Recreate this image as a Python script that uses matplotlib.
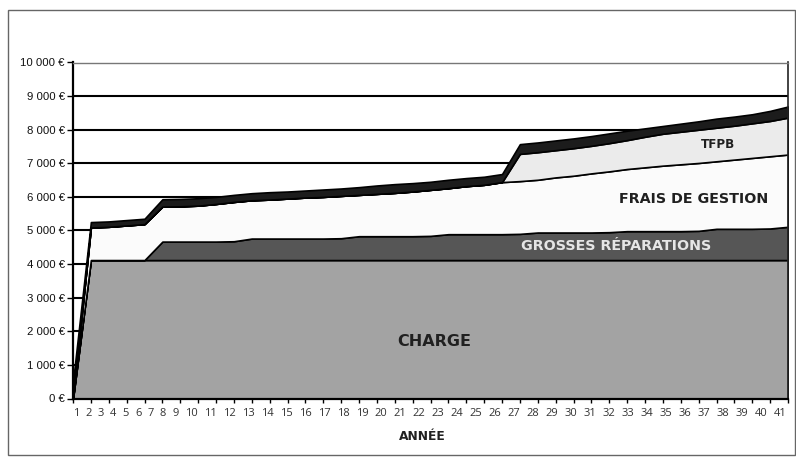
import matplotlib
matplotlib.use("Agg")
import matplotlib.pyplot as plt
from matplotlib.patches import Rectangle

# ---- données (en euros par année) ----
annees = list(range(1, 42))
charge = [0] + [4120] * 40
grosses_reparations = [0, 0, 0, 0, 0,
                       550, 550, 550, 550, 560,
                       640, 640, 640, 640, 640, 650,
                       710, 710, 710, 710, 720,
                       770, 770, 770, 770, 780,
                       820, 820, 820, 820, 830,
                       860, 860, 860, 860, 870,
                       930, 930, 930, 940, 990]
frais_gestion = [0, 970, 990, 1030, 1070,
                 1040, 1050, 1070, 1120, 1170,
                 1140, 1160, 1190, 1220, 1240, 1260,
                 1230, 1260, 1290, 1330, 1370,
                 1370, 1430, 1470, 1550, 1570,
                 1570, 1640, 1690, 1760, 1810,
                 1850, 1900, 1950, 1990, 2020,
                 2010, 2060, 2110, 2150, 2150]
tfpb = [0] * 25 + [810, 820, 810, 820, 820, 840, 860, 910, 950, 970,
                   990, 1000, 1010, 1030, 1050, 1100]
autres = [500, 160, 160, 160, 160,
          220, 220, 220, 210, 210,
          210, 220, 210, 210, 220, 220,
          230, 250, 260, 250, 240,
          250, 240, 240, 240, 290,
          290, 290, 290, 290, 290,
          280, 250, 230, 240, 250,
          270, 270, 270, 300, 330]

graduations_y = list(range(0, 10001, 1000))
etiquettes_y = ["0 €"] + [f"{v // 1000} 000 €" for v in graduations_y[1:]]
etiquettes_x = [str(a) for a in annees]

# ---- figure ----
W, H = 796, 459
fig = plt.figure(figsize=(W / 100, H / 100), dpi=100)
fig.patch.set_facecolor("white")

# cadre extérieur
fig.add_artist(Rectangle((8 / W, 1 - 455 / H), 787 / W, 445 / H,
                         transform=fig.transFigure, fill=False,
                         edgecolor="#666666", linewidth=1.0))

ax_left, ax_right = 73, 788
ax_top, ax_bottom = 62.5, 398.5
ax = fig.add_axes([ax_left / W, 1 - ax_bottom / H,
                   (ax_right - ax_left) / W, (ax_bottom - ax_top) / H])

couleurs = ["#a3a3a3", "#565656", "#fbfbfb", "#ebebeb", "#1c1c1c"]
ax.stackplot(annees, charge, grosses_reparations, frais_gestion, tfpb, autres,
             colors=couleurs, edgecolor="black", linewidth=1.2, zorder=2)

ax.set_xlim(1, 41)
ax.set_ylim(0, 10000)
ax.set_yticks(graduations_y)
ax.set_yticklabels(etiquettes_y, family="Liberation Sans", fontsize=8.2, color="#111111")
ax.tick_params(axis="y", length=4, width=1.0, color="black", pad=2)
ax.set_xticks(annees)
ax.set_xticklabels([])
ax.tick_params(axis="x", length=3, width=1.0, color="black")

ax.set_axisbelow(True)
ax.yaxis.grid(True, color="black", linewidth=1.5, zorder=0.5)

for side in ("left", "bottom"):
    ax.spines[side].set_linewidth(1.6)
    ax.spines[side].set_color("black")
ax.spines["right"].set_linewidth(1.2)
ax.spines["right"].set_color("#222222")
ax.spines["top"].set_linewidth(1.0)
ax.spines["top"].set_color("#777777")

# étiquettes d'années composées comme une ligne de texte
largeur_px = ax_right - ax_left
chiffre = 6.6 / largeur_px
espace = 5.8 / largeur_px
pos = 0.0
for lab in etiquettes_x:
    w = len(lab) * chiffre
    ax.text(pos + w / 2, -14.5 / (ax_bottom - ax_top), lab, transform=ax.transAxes,
            ha="center", va="center", family="Open Sans", fontsize=8, color="#333333")
    pos += w + espace

# libellés des séries
police = dict(family="DejaVu Sans", fontweight="bold")
ax.text(21.2, 1710, "CHARGE", ha="center", va="center", fontsize=11.5, color="#202020", **police, zorder=5)
ax.text(31.4, 4540, "GROSSES RÉPARATIONS", ha="center", va="center", fontsize=10.3,
        color="#e6e6e6", **police, zorder=5)
ax.text(35.7, 5940, "FRAIS DE GESTION", ha="center", va="center", fontsize=10.3,
        color="#202020", **police, zorder=5)
ax.text(37.1, 7545, "TFPB", ha="center", va="center", fontsize=8.6, color="#202020", **police, zorder=5)

fig.text(422 / W, 1 - 437 / H, "ANNÉE", ha="center", va="center",
         family="DejaVu Sans", fontweight="bold", fontsize=8.8, color="#202020")

fig.savefig("out.png", dpi=100)
